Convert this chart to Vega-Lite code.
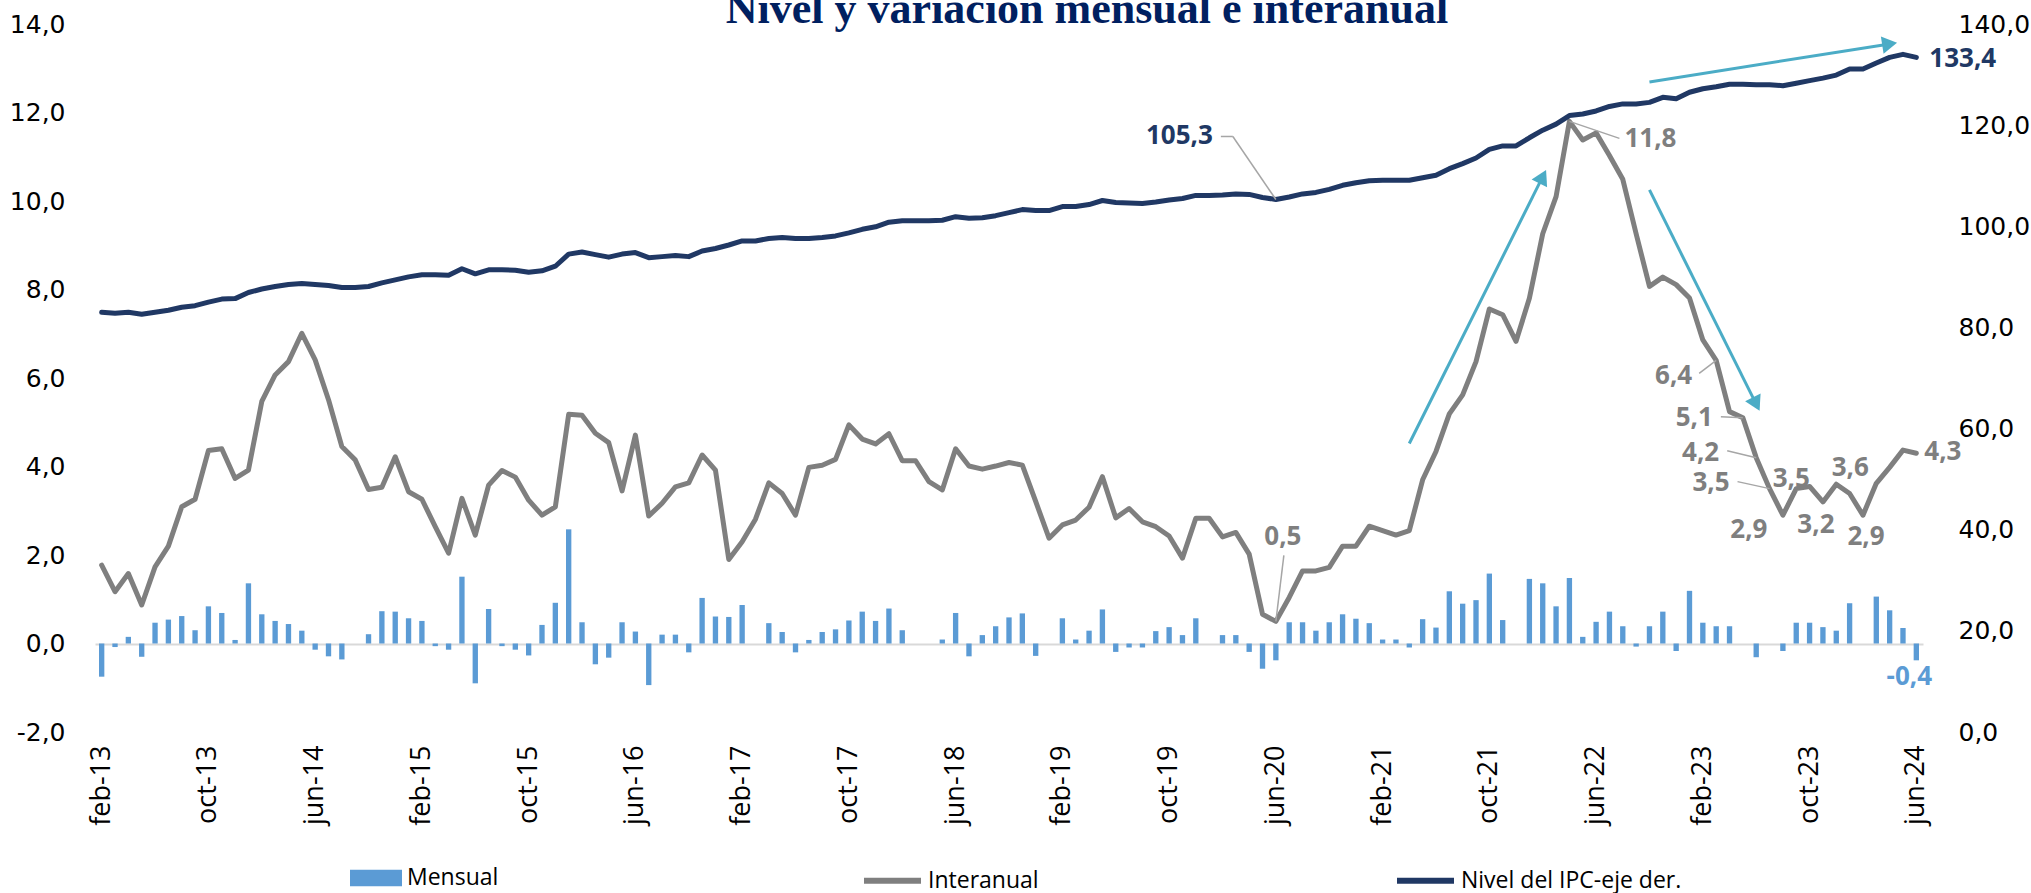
{
"$schema": "https://vega.github.io/schema/vega-lite/v6.json",
"width": 1828, "height": 708,
"autosize": {"type": "none"},
"padding": {"left": 95, "top": 24, "right": 108, "bottom": 161},
"background": "white",
"config": {"view": {"stroke": null}, "font": "Open Sans",
  "locale": {"number": {"decimal": ",", "thousands": ".", "grouping": [3], "currency": ["", ""], "minus": "-"}}},
"title": {"text": "Nivel y variación mensual e interanual", "font": "Liberation Serif", "fontSize": 44, "fontWeight": "bold", "color": "#002060", "anchor": "middle", "dx": 78, "dy": 55, "offset": 0, "baseline": "alphabetic"},
"datasets": {
"ipc": [
{"mes":"feb-13","mensual":-0.75,"interanual":1.77,"ipc":83.0},
{"mes":"mar-13","mensual":-0.08,"interanual":1.17,"ipc":82.8},
{"mes":"abr-13","mensual":0.15,"interanual":1.58,"ipc":83.0},
{"mes":"may-13","mensual":-0.30,"interanual":0.87,"ipc":82.6},
{"mes":"jun-13","mensual":0.47,"interanual":1.73,"ipc":83.0},
{"mes":"jul-13","mensual":0.54,"interanual":2.20,"ipc":83.4},
{"mes":"ago-13","mensual":0.62,"interanual":3.09,"ipc":84.0},
{"mes":"sep-13","mensual":0.30,"interanual":3.26,"ipc":84.3},
{"mes":"oct-13","mensual":0.84,"interanual":4.36,"ipc":85.0},
{"mes":"nov-13","mensual":0.69,"interanual":4.40,"ipc":85.6},
{"mes":"dic-13","mensual":0.08,"interanual":3.73,"ipc":85.7},
{"mes":"ene-14","mensual":1.36,"interanual":3.92,"ipc":86.9},
{"mes":"feb-14","mensual":0.66,"interanual":5.47,"ipc":87.6},
{"mes":"mar-14","mensual":0.51,"interanual":6.07,"ipc":88.1},
{"mes":"abr-14","mensual":0.44,"interanual":6.37,"ipc":88.5},
{"mes":"may-14","mensual":0.29,"interanual":7.01,"ipc":88.7},
{"mes":"jun-14","mensual":-0.14,"interanual":6.41,"ipc":88.5},
{"mes":"jul-14","mensual":-0.29,"interanual":5.51,"ipc":88.3},
{"mes":"ago-14","mensual":-0.36,"interanual":4.45,"ipc":87.9},
{"mes":"sep-14","mensual":0.0,"interanual":4.15,"ipc":87.9},
{"mes":"oct-14","mensual":0.21,"interanual":3.48,"ipc":88.1},
{"mes":"nov-14","mensual":0.73,"interanual":3.53,"ipc":88.8},
{"mes":"dic-14","mensual":0.72,"interanual":4.22,"ipc":89.4},
{"mes":"ene-15","mensual":0.57,"interanual":3.43,"ipc":90.0},
{"mes":"feb-15","mensual":0.51,"interanual":3.26,"ipc":90.4},
{"mes":"mar-15","mensual":-0.06,"interanual":2.64,"ipc":90.4},
{"mes":"abr-15","mensual":-0.14,"interanual":2.04,"ipc":90.3},
{"mes":"may-15","mensual":1.51,"interanual":3.28,"ipc":91.6},
{"mes":"jun-15","mensual":-0.90,"interanual":2.45,"ipc":90.6},
{"mes":"jul-15","mensual":0.78,"interanual":3.58,"ipc":91.4},
{"mes":"ago-15","mensual":-0.06,"interanual":3.91,"ipc":91.4},
{"mes":"sep-15","mensual":-0.14,"interanual":3.76,"ipc":91.3},
{"mes":"oct-15","mensual":-0.27,"interanual":3.24,"ipc":90.9},
{"mes":"nov-15","mensual":0.42,"interanual":2.90,"ipc":91.2},
{"mes":"dic-15","mensual":0.92,"interanual":3.09,"ipc":92.1},
{"mes":"ene-16","mensual":2.58,"interanual":5.18,"ipc":94.5},
{"mes":"feb-16","mensual":0.48,"interanual":5.16,"ipc":94.9},
{"mes":"mar-16","mensual":-0.47,"interanual":4.75,"ipc":94.4},
{"mes":"abr-16","mensual":-0.32,"interanual":4.54,"ipc":93.9},
{"mes":"may-16","mensual":0.48,"interanual":3.45,"ipc":94.5},
{"mes":"jun-16","mensual":0.27,"interanual":4.71,"ipc":94.8},
{"mes":"jul-16","mensual":-0.94,"interanual":2.88,"ipc":93.8},
{"mes":"ago-16","mensual":0.20,"interanual":3.17,"ipc":94.0},
{"mes":"sep-16","mensual":0.20,"interanual":3.54,"ipc":94.2},
{"mes":"oct-16","mensual":-0.20,"interanual":3.63,"ipc":94.0},
{"mes":"nov-16","mensual":1.03,"interanual":4.26,"ipc":95.1},
{"mes":"dic-16","mensual":0.61,"interanual":3.92,"ipc":95.6},
{"mes":"ene-17","mensual":0.60,"interanual":1.90,"ipc":96.3},
{"mes":"feb-17","mensual":0.87,"interanual":2.30,"ipc":97.1},
{"mes":"mar-17","mensual":0.0,"interanual":2.81,"ipc":97.1},
{"mes":"abr-17","mensual":0.46,"interanual":3.63,"ipc":97.6},
{"mes":"may-17","mensual":0.26,"interanual":3.39,"ipc":97.8},
{"mes":"jun-17","mensual":-0.20,"interanual":2.90,"ipc":97.6},
{"mes":"jul-17","mensual":0.08,"interanual":3.98,"ipc":97.6},
{"mes":"ago-17","mensual":0.26,"interanual":4.03,"ipc":97.8},
{"mes":"sep-17","mensual":0.32,"interanual":4.16,"ipc":98.1},
{"mes":"oct-17","mensual":0.52,"interanual":4.94,"ipc":98.7},
{"mes":"nov-17","mensual":0.72,"interanual":4.62,"ipc":99.4},
{"mes":"dic-17","mensual":0.51,"interanual":4.51,"ipc":99.9},
{"mes":"ene-18","mensual":0.79,"interanual":4.74,"ipc":100.8},
{"mes":"feb-18","mensual":0.30,"interanual":4.13,"ipc":101.1},
{"mes":"mar-18","mensual":0.0,"interanual":4.13,"ipc":101.1},
{"mes":"abr-18","mensual":0.0,"interanual":3.66,"ipc":101.1},
{"mes":"may-18","mensual":0.09,"interanual":3.47,"ipc":101.2},
{"mes":"jun-18","mensual":0.69,"interanual":4.40,"ipc":101.9},
{"mes":"jul-18","mensual":-0.29,"interanual":4.01,"ipc":101.6},
{"mes":"ago-18","mensual":0.19,"interanual":3.94,"ipc":101.7},
{"mes":"sep-18","mensual":0.39,"interanual":4.01,"ipc":102.1},
{"mes":"oct-18","mensual":0.59,"interanual":4.09,"ipc":102.7},
{"mes":"nov-18","mensual":0.68,"interanual":4.03,"ipc":103.3},
{"mes":"dic-18","mensual":-0.28,"interanual":3.21,"ipc":103.1},
{"mes":"ene-19","mensual":0.0,"interanual":2.38,"ipc":103.1},
{"mes":"feb-19","mensual":0.57,"interanual":2.68,"ipc":103.9},
{"mes":"mar-19","mensual":0.09,"interanual":2.79,"ipc":103.9},
{"mes":"abr-19","mensual":0.29,"interanual":3.08,"ipc":104.3},
{"mes":"may-19","mensual":0.77,"interanual":3.77,"ipc":105.1},
{"mes":"jun-19","mensual":-0.19,"interanual":2.84,"ipc":104.7},
{"mes":"jul-19","mensual":-0.09,"interanual":3.05,"ipc":104.6},
{"mes":"ago-19","mensual":-0.09,"interanual":2.75,"ipc":104.5},
{"mes":"sep-19","mensual":0.28,"interanual":2.64,"ipc":104.8},
{"mes":"oct-19","mensual":0.37,"interanual":2.43,"ipc":105.2},
{"mes":"nov-19","mensual":0.19,"interanual":1.93,"ipc":105.5},
{"mes":"dic-19","mensual":0.57,"interanual":2.83,"ipc":106.1},
{"mes":"ene-20","mensual":0.0,"interanual":2.83,"ipc":106.1},
{"mes":"feb-20","mensual":0.19,"interanual":2.41,"ipc":106.2},
{"mes":"mar-20","mensual":0.19,"interanual":2.51,"ipc":106.4},
{"mes":"abr-20","mensual":-0.19,"interanual":2.02,"ipc":106.3},
{"mes":"may-20","mensual":-0.57,"interanual":0.66,"ipc":105.7},
{"mes":"jun-20","mensual":-0.38,"interanual":0.5,"ipc":105.3},
{"mes":"jul-20","mensual":0.48,"interanual":1.04,"ipc":105.8},
{"mes":"ago-20","mensual":0.48,"interanual":1.64,"ipc":106.4},
{"mes":"sep-20","mensual":0.29,"interanual":1.64,"ipc":106.7},
{"mes":"oct-20","mensual":0.48,"interanual":1.72,"ipc":107.3},
{"mes":"nov-20","mensual":0.66,"interanual":2.20,"ipc":108.1},
{"mes":"dic-20","mensual":0.56,"interanual":2.20,"ipc":108.6},
{"mes":"ene-21","mensual":0.46,"interanual":2.65,"ipc":109.0},
{"mes":"feb-21","mensual":0.09,"interanual":2.55,"ipc":109.1},
{"mes":"mar-21","mensual":0.09,"interanual":2.45,"ipc":109.1},
{"mes":"abr-21","mensual":-0.09,"interanual":2.55,"ipc":109.1},
{"mes":"may-21","mensual":0.55,"interanual":3.70,"ipc":109.6},
{"mes":"jun-21","mensual":0.36,"interanual":4.34,"ipc":110.1},
{"mes":"jul-21","mensual":1.18,"interanual":5.19,"ipc":111.4},
{"mes":"ago-21","mensual":0.90,"interanual":5.62,"ipc":112.4},
{"mes":"sep-21","mensual":0.98,"interanual":6.37,"ipc":113.5},
{"mes":"oct-21","mensual":1.58,"interanual":7.56,"ipc":115.2},
{"mes":"nov-21","mensual":0.53,"interanual":7.43,"ipc":115.9},
{"mes":"dic-21","mensual":0.0,"interanual":6.83,"ipc":115.9},
{"mes":"ene-22","mensual":1.46,"interanual":7.80,"ipc":117.5},
{"mes":"feb-22","mensual":1.36,"interanual":9.26,"ipc":119.0},
{"mes":"mar-22","mensual":0.84,"interanual":10.10,"ipc":120.2},
{"mes":"abr-22","mensual":1.48,"interanual":11.8,"ipc":121.9},
{"mes":"may-22","mensual":0.15,"interanual":11.38,"ipc":122.2},
{"mes":"jun-22","mensual":0.49,"interanual":11.54,"ipc":122.8},
{"mes":"jul-22","mensual":0.72,"interanual":11.03,"ipc":123.7},
{"mes":"ago-22","mensual":0.39,"interanual":10.49,"ipc":124.2},
{"mes":"sep-22","mensual":-0.07,"interanual":9.26,"ipc":124.2},
{"mes":"oct-22","mensual":0.39,"interanual":8.07,"ipc":124.5},
{"mes":"nov-22","mensual":0.72,"interanual":8.28,"ipc":125.5},
{"mes":"dic-22","mensual":-0.17,"interanual":8.11,"ipc":125.2},
{"mes":"ene-23","mensual":1.19,"interanual":7.81,"ipc":126.5},
{"mes":"feb-23","mensual":0.47,"interanual":6.86,"ipc":127.2},
{"mes":"mar-23","mensual":0.39,"interanual":6.4,"ipc":127.6},
{"mes":"abr-23","mensual":0.39,"interanual":5.24,"ipc":128.1},
{"mes":"may-23","mensual":0.0,"interanual":5.1,"ipc":128.1},
{"mes":"jun-23","mensual":-0.31,"interanual":4.2,"ipc":128.0},
{"mes":"jul-23","mensual":0.0,"interanual":3.5,"ipc":128.0},
{"mes":"ago-23","mensual":-0.17,"interanual":2.9,"ipc":127.8},
{"mes":"sep-23","mensual":0.47,"interanual":3.5,"ipc":128.3},
{"mes":"oct-23","mensual":0.47,"interanual":3.55,"ipc":128.8},
{"mes":"nov-23","mensual":0.37,"interanual":3.2,"ipc":129.3},
{"mes":"dic-23","mensual":0.29,"interanual":3.6,"ipc":129.9},
{"mes":"ene-24","mensual":0.91,"interanual":3.39,"ipc":131.1},
{"mes":"feb-24","mensual":0.0,"interanual":2.9,"ipc":131.1},
{"mes":"mar-24","mensual":1.06,"interanual":3.62,"ipc":132.3},
{"mes":"abr-24","mensual":0.75,"interanual":3.98,"ipc":133.4},
{"mes":"may-24","mensual":0.35,"interanual":4.37,"ipc":134.0},
{"mes":"jun-24","mensual":-0.38,"interanual":4.3,"ipc":133.4}
],
"flechas": [
{"id":"a","mes":"abr-21","mes2":"feb-22","v":4.52,"v2":10.55},
{"id":"b","mes":"oct-22","mes2":"jun-23","v":10.25,"v2":5.41},
{"id":"c","mes":"oct-22","mes2":"abr-24","v":12.69,"v2":13.55}
]
},
"data": {"name": "ipc"},
"encoding": {
  "x": {"field": "mes", "type": "ordinal", "title": null,
    "scale": {"paddingInner": 0.6, "paddingOuter": 0.3, "domain": ["feb-13","mar-13","abr-13","may-13","jun-13","jul-13","ago-13","sep-13","oct-13","nov-13","dic-13","ene-14","feb-14","mar-14","abr-14","may-14","jun-14","jul-14","ago-14","sep-14","oct-14","nov-14","dic-14","ene-15","feb-15","mar-15","abr-15","may-15","jun-15","jul-15","ago-15","sep-15","oct-15","nov-15","dic-15","ene-16","feb-16","mar-16","abr-16","may-16","jun-16","jul-16","ago-16","sep-16","oct-16","nov-16","dic-16","ene-17","feb-17","mar-17","abr-17","may-17","jun-17","jul-17","ago-17","sep-17","oct-17","nov-17","dic-17","ene-18","feb-18","mar-18","abr-18","may-18","jun-18","jul-18","ago-18","sep-18","oct-18","nov-18","dic-18","ene-19","feb-19","mar-19","abr-19","may-19","jun-19","jul-19","ago-19","sep-19","oct-19","nov-19","dic-19","ene-20","feb-20","mar-20","abr-20","may-20","jun-20","jul-20","ago-20","sep-20","oct-20","nov-20","dic-20","ene-21","feb-21","mar-21","abr-21","may-21","jun-21","jul-21","ago-21","sep-21","oct-21","nov-21","dic-21","ene-22","feb-22","mar-22","abr-22","may-22","jun-22","jul-22","ago-22","sep-22","oct-22","nov-22","dic-22","ene-23","feb-23","mar-23","abr-23","may-23","jun-23","jul-23","ago-23","sep-23","oct-23","nov-23","dic-23","ene-24","feb-24","mar-24","abr-24","may-24","jun-24"]},
    "axis": {"values": ["feb-13","oct-13","jun-14","feb-15","oct-15","jun-16","feb-17","oct-17","jun-18","feb-19","oct-19","jun-20","feb-21","oct-21","jun-22","feb-23","oct-23","jun-24"],
      "labelAngle": -90, "labelFont": "Open Sans", "labelFontSize": 27, "labelColor": "#000000", "ticks": false, "tickSize": 0, "domain": false, "labelPadding": 13, "grid": false}}
},
"layer": [
{"layer": [
  {"mark": {"type": "bar"},
   "encoding": {
     "y": {"field": "mensual", "type": "quantitative", "title": null,
       "scale": {"domain": [-2, 14], "nice": false, "zero": false},
       "axis": {"orient": "left", "values": [-2,0,2,4,6,8,10,12,14], "format": ".1f", "labelFont": "DejaVu Sans", "labelFontSize": 25, "labelColor": "#000000", "ticks": false, "tickSize": 0, "domain": false, "labelPadding": 30, "grid": true, "gridColor": "#D9D9D9", "gridWidth": 2, "gridOpacity": {"condition": {"test": "datum.value === 0", "value": 1}, "value": 0}, "title": null}},
     "fill": {"datum": "Mensual", "scale": {"domain": ["Mensual"], "range": ["#5B9BD5"]},
       "legend": {"orient": "none", "legendX": 255, "legendY": 828, "title": null, "symbolType": "M-1,-0.32H1V0.32H-1Z", "symbolSize": 2704, "symbolStrokeWidth": 0, "labelFont": "Open Sans", "labelFontSize": 23, "labelColor": "#000000", "labelOffset": 5, "padding": 0, "labelLimit": 400}}
   }},
  {"mark": {"type": "line", "strokeWidth": 5, "strokeJoin": "round", "strokeCap": "round"},
   "encoding": {
     "y": {"field": "interanual", "type": "quantitative", "title": null},
     "stroke": {"datum": "Interanual", "scale": {"domain": ["Interanual", "Nivel del IPC-eje der."], "range": ["#7F7F7F", "#203864"]},
       "legend": {"orient": "none", "legendX": 766, "legendY": 825, "direction": "horizontal", "columns": 2, "columnPadding": 346, "title": null, "symbolType": "stroke", "symbolSize": 3249, "symbolStrokeWidth": 6, "labelFont": "Open Sans", "labelFontSize": 23, "labelColor": "#000000", "labelOffset": 4, "padding": 0, "labelLimit": 400}}
   }},
  {"data": {"name": "flechas"},
   "mark": {"type": "rule", "color": "#4BACC6", "strokeWidth": 3},
   "encoding": {"x2": {"field": "mes2"}, "y": {"field": "v", "type": "quantitative", "title": null}, "y2": {"field": "v2"}}},
  {"data": {"name": "flechas"}, "transform": [{"filter": "datum.id === 'a'"}],
   "mark": {"type": "point", "shape": "triangle-up", "filled": true, "color": "#4BACC6", "opacity": 1, "size": 300, "angle": 26.6},
   "encoding": {"x": {"field": "mes2", "type": "ordinal"}, "y": {"field": "v2", "type": "quantitative", "title": null}}},
  {"data": {"name": "flechas"}, "transform": [{"filter": "datum.id === 'b'"}],
   "mark": {"type": "point", "shape": "triangle-up", "filled": true, "color": "#4BACC6", "opacity": 1, "size": 300, "angle": 153.4},
   "encoding": {"x": {"field": "mes2", "type": "ordinal"}, "y": {"field": "v2", "type": "quantitative", "title": null}}},
  {"data": {"name": "flechas"}, "transform": [{"filter": "datum.id === 'c'"}],
   "mark": {"type": "point", "shape": "triangle-up", "filled": true, "color": "#4BACC6", "opacity": 1, "size": 300, "angle": 81},
   "encoding": {"x": {"field": "mes2", "type": "ordinal"}, "y": {"field": "v2", "type": "quantitative", "title": null}}},
  {"transform": [{"filter": "datum.mes === 'jun-20'"}],
   "mark": {"type": "rule", "color": "#A6A6A6", "strokeWidth": 1.5, "x2Offset": 8, "y2Offset": -66},
   "encoding": {"x2": {"field": "mes"}, "y": {"field": "interanual", "type": "quantitative", "title": null}, "y2": {"field": "interanual"}}},
  {"transform": [{"filter": "datum.mes === 'abr-22'"}],
   "mark": {"type": "rule", "color": "#A6A6A6", "strokeWidth": 1.5, "x2Offset": 50, "y2Offset": 17},
   "encoding": {"x2": {"field": "mes"}, "y": {"field": "interanual", "type": "quantitative", "title": null}, "y2": {"field": "interanual"}}},
  {"transform": [{"filter": "datum.mes === 'mar-23'"}],
   "mark": {"type": "rule", "color": "#A6A6A6", "strokeWidth": 1.5, "x2Offset": -17, "y2Offset": 13},
   "encoding": {"x2": {"field": "mes"}, "y": {"field": "interanual", "type": "quantitative", "title": null}, "y2": {"field": "interanual"}}},
  {"transform": [{"filter": "datum.mes === 'may-23'"}],
   "mark": {"type": "rule", "color": "#A6A6A6", "strokeWidth": 1.5, "x2Offset": -22, "y2Offset": -1},
   "encoding": {"x2": {"field": "mes"}, "y": {"field": "interanual", "type": "quantitative", "title": null}, "y2": {"field": "interanual"}}},
  {"transform": [{"filter": "datum.mes === 'jun-23'"}],
   "mark": {"type": "rule", "color": "#A6A6A6", "strokeWidth": 1.5, "x2Offset": -29, "y2Offset": -7},
   "encoding": {"x2": {"field": "mes"}, "y": {"field": "interanual", "type": "quantitative", "title": null}, "y2": {"field": "interanual"}}},
  {"transform": [{"filter": "datum.mes === 'jul-23'"}],
   "mark": {"type": "rule", "color": "#A6A6A6", "strokeWidth": 1.5, "x2Offset": -32, "y2Offset": -7},
   "encoding": {"x2": {"field": "mes"}, "y": {"field": "interanual", "type": "quantitative", "title": null}, "y2": {"field": "interanual"}}},
  {"transform": [{"filter": "datum.mes === 'jun-20'"}],
   "mark": {"type": "text", "font": "Open Sans", "fontSize": 26, "fontWeight": "bold", "color": "#7F7F7F", "align": "center", "baseline": "middle", "dx": 7, "dy": -84},
   "encoding": {"y": {"field": "interanual", "type": "quantitative", "title": null}, "text": {"field": "interanual", "type": "quantitative", "format": ".1f"}}},
  {"transform": [{"filter": "datum.mes === 'abr-22'"}],
   "mark": {"type": "text", "font": "Open Sans", "fontSize": 26, "fontWeight": "bold", "color": "#7F7F7F", "align": "left", "baseline": "middle", "dx": 55, "dy": 18},
   "encoding": {"y": {"field": "interanual", "type": "quantitative", "title": null}, "text": {"field": "interanual", "type": "quantitative", "format": ".1f"}}},
  {"transform": [{"filter": "datum.mes === 'mar-23'"}],
   "mark": {"type": "text", "font": "Open Sans", "fontSize": 26, "fontWeight": "bold", "color": "#7F7F7F", "align": "right", "baseline": "middle", "dx": -24, "dy": 16},
   "encoding": {"y": {"field": "interanual", "type": "quantitative", "title": null}, "text": {"field": "interanual", "type": "quantitative", "format": ".1f"}}},
  {"transform": [{"filter": "datum.mes === 'may-23'"}],
   "mark": {"type": "text", "font": "Open Sans", "fontSize": 26, "fontWeight": "bold", "color": "#7F7F7F", "align": "right", "baseline": "middle", "dx": -30, "dy": 0},
   "encoding": {"y": {"field": "interanual", "type": "quantitative", "title": null}, "text": {"field": "interanual", "type": "quantitative", "format": ".1f"}}},
  {"transform": [{"filter": "datum.mes === 'jun-23'"}],
   "mark": {"type": "text", "font": "Open Sans", "fontSize": 26, "fontWeight": "bold", "color": "#7F7F7F", "align": "right", "baseline": "middle", "dx": -37, "dy": -5},
   "encoding": {"y": {"field": "interanual", "type": "quantitative", "title": null}, "text": {"field": "interanual", "type": "quantitative", "format": ".1f"}}},
  {"transform": [{"filter": "datum.mes === 'jul-23'"}],
   "mark": {"type": "text", "font": "Open Sans", "fontSize": 26, "fontWeight": "bold", "color": "#7F7F7F", "align": "right", "baseline": "middle", "dx": -40, "dy": -6},
   "encoding": {"y": {"field": "interanual", "type": "quantitative", "title": null}, "text": {"field": "interanual", "type": "quantitative", "format": ".1f"}}},
  {"transform": [{"filter": "datum.mes === 'ago-23'"}],
   "mark": {"type": "text", "font": "Open Sans", "fontSize": 26, "fontWeight": "bold", "color": "#7F7F7F", "align": "center", "baseline": "middle", "dx": -34, "dy": 15},
   "encoding": {"y": {"field": "interanual", "type": "quantitative", "title": null}, "text": {"field": "interanual", "type": "quantitative", "format": ".1f"}}},
  {"transform": [{"filter": "datum.mes === 'sep-23'"}],
   "mark": {"type": "text", "font": "Open Sans", "fontSize": 26, "fontWeight": "bold", "color": "#7F7F7F", "align": "center", "baseline": "middle", "dx": -5, "dy": -10},
   "encoding": {"y": {"field": "interanual", "type": "quantitative", "title": null}, "text": {"field": "interanual", "type": "quantitative", "format": ".1f"}}},
  {"transform": [{"filter": "datum.mes === 'nov-23'"}],
   "mark": {"type": "text", "font": "Open Sans", "fontSize": 26, "fontWeight": "bold", "color": "#7F7F7F", "align": "center", "baseline": "middle", "dx": -7, "dy": 23},
   "encoding": {"y": {"field": "interanual", "type": "quantitative", "title": null}, "text": {"field": "interanual", "type": "quantitative", "format": ".1f"}}},
  {"transform": [{"filter": "datum.mes === 'dic-23'"}],
   "mark": {"type": "text", "font": "Open Sans", "fontSize": 26, "fontWeight": "bold", "color": "#7F7F7F", "align": "center", "baseline": "middle", "dx": 14, "dy": -16},
   "encoding": {"y": {"field": "interanual", "type": "quantitative", "title": null}, "text": {"field": "interanual", "type": "quantitative", "format": ".1f"}}},
  {"transform": [{"filter": "datum.mes === 'feb-24'"}],
   "mark": {"type": "text", "font": "Open Sans", "fontSize": 26, "fontWeight": "bold", "color": "#7F7F7F", "align": "center", "baseline": "middle", "dx": 3, "dy": 22},
   "encoding": {"y": {"field": "interanual", "type": "quantitative", "title": null}, "text": {"field": "interanual", "type": "quantitative", "format": ".1f"}}},
  {"transform": [{"filter": "datum.mes === 'jun-24'"}],
   "mark": {"type": "text", "font": "Open Sans", "fontSize": 26, "fontWeight": "bold", "color": "#7F7F7F", "align": "left", "baseline": "middle", "dx": 8, "dy": -1},
   "encoding": {"y": {"field": "interanual", "type": "quantitative", "title": null}, "text": {"field": "interanual", "type": "quantitative", "format": ".1f"}}},
  {"transform": [{"filter": "datum.mes === 'jun-24'"}],
   "mark": {"type": "text", "font": "Open Sans", "fontSize": 26, "fontWeight": "bold", "color": "#5B9BD5", "align": "center", "baseline": "middle", "dx": -7, "dy": 17},
   "encoding": {"y": {"field": "mensual", "type": "quantitative", "title": null}, "text": {"field": "mensual", "type": "quantitative", "format": ".1f"}}}
]},
{"layer": [
  {"mark": {"type": "line", "strokeWidth": 5, "strokeJoin": "round", "strokeCap": "round"},
   "encoding": {
     "y": {"field": "ipc", "type": "quantitative", "title": null,
       "scale": {"domain": [0, 140], "nice": false, "zero": false},
       "axis": {"orient": "right", "values": [0,20,40,60,80,100,120,140], "format": ".1f", "labelFont": "DejaVu Sans", "labelFontSize": 25, "labelColor": "#000000", "ticks": false, "tickSize": 0, "domain": false, "labelPadding": 35, "grid": false, "title": null}},
     "stroke": {"datum": "Nivel del IPC-eje der."}
   }},
  {"transform": [{"filter": "datum.mes === 'jun-20'"}],
   "mark": {"type": "rule", "color": "#A6A6A6", "strokeWidth": 1.5, "x2Offset": -43, "y2Offset": -63},
   "encoding": {"x2": {"field": "mes"}, "y": {"field": "ipc", "type": "quantitative", "title": null}, "y2": {"field": "ipc"}}},
  {"transform": [{"filter": "datum.mes === 'jun-20'"}],
   "mark": {"type": "rule", "color": "#A6A6A6", "strokeWidth": 1.5, "xOffset": -43, "yOffset": -63, "x2Offset": -55, "y2Offset": -63},
   "encoding": {"x2": {"field": "mes"}, "y": {"field": "ipc", "type": "quantitative", "title": null}, "y2": {"field": "ipc"}}},
  {"transform": [{"filter": "datum.mes === 'jun-20'"}],
   "mark": {"type": "text", "font": "Open Sans", "fontSize": 26, "fontWeight": "bold", "color": "#203864", "align": "right", "baseline": "middle", "dx": -63, "dy": -63},
   "encoding": {"y": {"field": "ipc", "type": "quantitative", "title": null}, "text": {"field": "ipc", "type": "quantitative", "format": ".1f"}}},
  {"transform": [{"filter": "datum.mes === 'jun-24'"}],
   "mark": {"type": "text", "font": "Open Sans", "fontSize": 26, "fontWeight": "bold", "color": "#203864", "align": "left", "baseline": "middle", "dx": 13, "dy": 2},
   "encoding": {"y": {"field": "ipc", "type": "quantitative", "title": null}, "text": {"field": "ipc", "type": "quantitative", "format": ".1f"}}}
]}
],
"resolve": {"scale": {"y": "independent"}}
}
